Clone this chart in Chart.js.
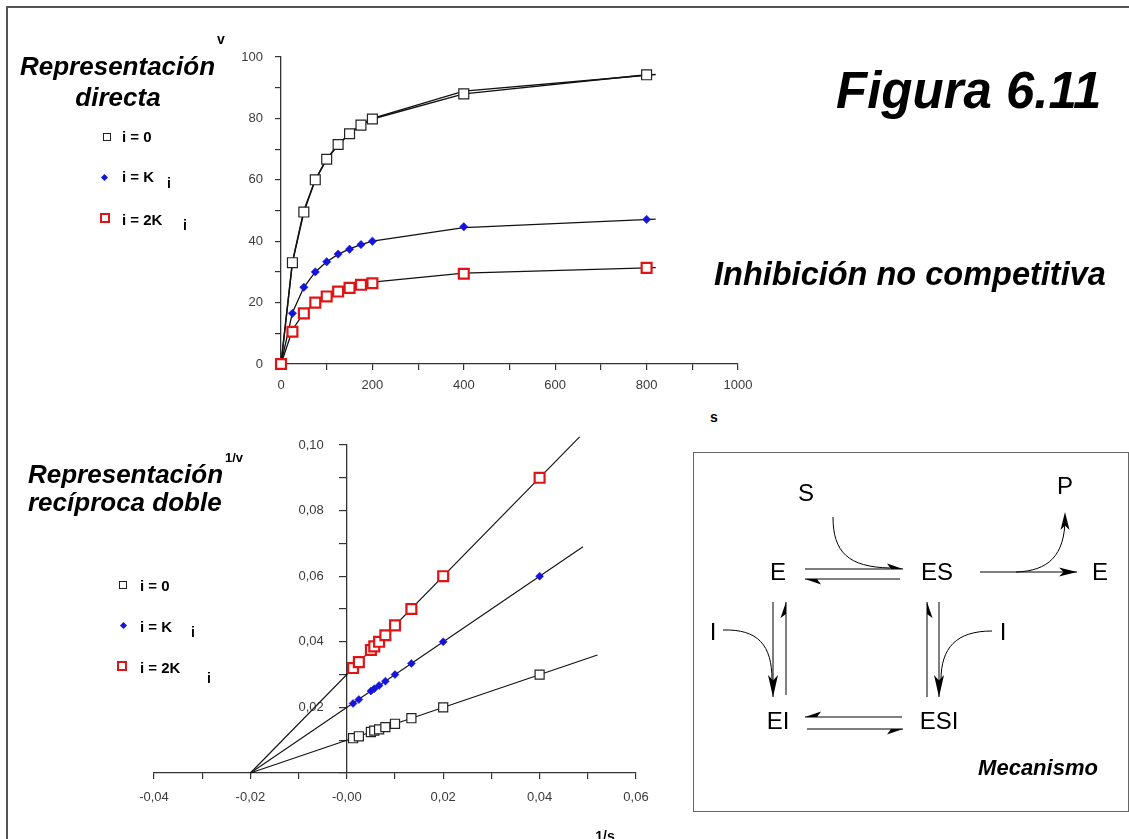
<!DOCTYPE html>
<html>
<head>
<meta charset="utf-8">
<title>Figura 6.11 - Inhibición no competitiva</title>
<script src="https://cdn.jsdelivr.net/npm/chart.js@4.4.1/dist/chart.umd.min.js"></script>
<style>
  html, body { margin: 0; padding: 0; background: #fff; }
  body { width: 1129px; height: 839px; position: relative; overflow: hidden;
         font-family: "Liberation Sans", Arial, Helvetica, sans-serif; color: #000; }
  .t { position: absolute; white-space: nowrap; line-height: 1; }
  .bi { font-weight: bold; font-style: italic; }
  .b { font-weight: bold; }
  .c { transform: translate(-50%, -50%); }
  .m { position: absolute; box-sizing: border-box; }
  #frame { position: absolute; left: 6px; top: 6px; width: 1300px; height: 1000px;
           border-top: 2px solid #555; border-left: 2px solid #555; }
  #mechBox { position: absolute; left: 693px; top: 452px; width: 436px; height: 360px;
             box-sizing: border-box; border: 1.5px solid #666; }
  canvas { position: absolute; }
</style>
</head>
<body>
<div id="frame"></div>

<!-- direct plot -->
<canvas id="direct" width="560" height="360" style="left:200px; top:40px; width:560px; height:360px;"></canvas>
<!-- double reciprocal plot -->
<canvas id="recip" width="580" height="420" style="left:100px; top:420px; width:580px; height:420px;"></canvas>

<div id="mechBox"></div>
<canvas id="mech" width="436" height="387" style="left:693px; top:452px; width:436px; height:387px;"></canvas>

<!-- headings -->
<div class="t bi" style="left:20px; top:53px; font-size:26px;">Representación</div>
<div class="t bi" style="left:118px; top:84px; font-size:26px; transform:translateX(-50%);">directa</div>
<div class="t bi" style="left:836px; top:65px; font-size:51px;">Figura 6.11</div>
<div class="t bi" style="left:714px; top:258px; font-size:32.5px;">Inhibición no competitiva</div>
<div class="t bi" style="left:28px; top:461px; font-size:26px;">Representación</div>
<div class="t bi" style="left:28px; top:489px; font-size:26px;">recíproca doble</div>

<!-- axis titles -->
<div class="t b c" style="left:221px; top:39px; font-size:14px;">v</div>
<div class="t b c" style="left:714px; top:417px; font-size:14px;">s</div>
<div class="t b c" style="left:234px; top:457px; font-size:13px;">1/v</div>
<div class="t b c" style="left:605px; top:836px; font-size:14px;">1/s</div>

<!-- legend, direct plot -->
<div class="m" style="left:103px; top:133px; width:8px; height:8px; border:1.3px solid #222; background:#fff;"></div>
<div class="m" style="left:102px; top:175px; width:5px; height:5px; background:#1414dc; transform:rotate(45deg);"></div>
<div class="m" style="left:100px; top:213px; width:10px; height:10px; border:2.5px solid #e01414; background:#fff;"></div>
<div class="t b" style="left:122px; top:129px; font-size:15px;">i = 0</div>
<div class="t b" style="left:122px; top:169px; font-size:15px;">i = K</div>
<div class="t b" style="left:167px; top:176px; font-size:14px;">i</div>
<div class="t b" style="left:122px; top:212px; font-size:15px;">i = 2K</div>
<div class="t b" style="left:183px; top:218px; font-size:14px;">i</div>

<!-- legend, double reciprocal plot -->
<div class="m" style="left:119px; top:581px; width:8px; height:8px; border:1.3px solid #222; background:#fff;"></div>
<div class="m" style="left:121px; top:623px; width:5px; height:5px; background:#1414dc; transform:rotate(45deg);"></div>
<div class="m" style="left:117px; top:661px; width:10px; height:10px; border:2.5px solid #e01414; background:#fff;"></div>
<div class="t b" style="left:140px; top:578px; font-size:15px;">i = 0</div>
<div class="t b" style="left:140px; top:619px; font-size:15px;">i = K</div>
<div class="t b" style="left:191px; top:625px; font-size:14px;">i</div>
<div class="t b" style="left:140px; top:660px; font-size:15px;">i = 2K</div>
<div class="t b" style="left:207px; top:671px; font-size:14px;">i</div>

<!-- mechanism species -->
<div class="t c" style="left:806px; top:493px; font-size:24px;">S</div>
<div class="t c" style="left:1065px; top:486px; font-size:24px;">P</div>
<div class="t c" style="left:778px; top:572px; font-size:24px;">E</div>
<div class="t c" style="left:937px; top:572px; font-size:24px;">ES</div>
<div class="t c" style="left:1100px; top:572px; font-size:24px;">E</div>
<div class="t c" style="left:713px; top:632px; font-size:24px;">I</div>
<div class="t c" style="left:1003px; top:632px; font-size:24px;">I</div>
<div class="t c" style="left:778px; top:721px; font-size:24px;">EI</div>
<div class="t c" style="left:939px; top:721px; font-size:24px;">ESI</div>
<div class="t bi c" style="left:1038px; top:768px; font-size:22px;">Mecanismo</div>

<script>
// ---- Direct plot: v against s ----
const sValues   = [0, 25, 50, 75, 100, 125, 150, 175, 200, 400, 800];
const vNoInhib  = [0, 33, 49.5, 60, 66.7, 71.5, 75, 77.8, 79.8, 88, 94.2];
const vKi       = [0, 16.5, 25, 30, 33.3, 35.8, 37.4, 38.9, 40, 44.7, 47.1];
const v2Ki      = [0, 10.5, 16.5, 20, 22, 23.6, 24.8, 25.8, 26.3, 29.4, 31.3];

// fitted hyperbolas, drawn a little past the last point
const sFit      = [0, 25, 50, 75, 100, 125, 150, 175, 200, 400, 820];
const fitNoInhib = [0, 33.3, 50, 60, 66.7, 71.4, 75, 77.8, 80, 88.9, 94.3];
const fitKi      = [0, 16.7, 25, 30, 33.3, 35.7, 37.5, 38.9, 40, 44.4, 47.2];
const fit2Ki     = [0, 11.1, 16.7, 20, 22.2, 23.8, 25, 25.9, 26.7, 29.6, 31.4];

const directXLabels = [0, 200, 400, 600, 800, 1000];
const directYLabels = [0, 20, 40, 60, 80, 100];

// ---- Double reciprocal plot: 1/v against 1/s ----
const invS        = [0.0013, 0.0025, 0.005, 0.0057, 0.0067, 0.008, 0.01, 0.0134, 0.02, 0.04];
const invVNoInhib = [0.0106, 0.0112, 0.0125, 0.0129, 0.0133, 0.014, 0.015, 0.0167, 0.02, 0.03];
const invVKi      = [0.0212, 0.0224, 0.025, 0.0257, 0.0267, 0.028, 0.030, 0.0334, 0.04, 0.06];
const invV2Ki     = [0.032, 0.0338, 0.0375, 0.0386, 0.04, 0.042, 0.045, 0.05, 0.06, 0.09];

// straight lines meeting on the x axis at -1/Km
const lineNoInhibX = [-0.02, 0.052];
const lineNoInhibY = [0, 0.036];
const lineKiX      = [-0.02, 0.049];
const lineKiY      = [0, 0.069];
const line2KiX     = [-0.02, 0.0483];
const line2KiY     = [0, 0.1025];

const recipXTicks  = [-0.04, -0.02, 0, 0.02, 0.04, 0.06];
const recipXLabels = ['-0,04', '-0,02', '-0,00', '0,02', '0,04', '0,06'];
const recipYTicks  = [0.02, 0.04, 0.06, 0.08, 0.10];
const recipYLabels = ['0,02', '0,04', '0,06', '0,08', '0,10'];

const BLUE = '#1414dc';
const RED = '#e01414';
const INK = '#222';
const AXIS = '#333';

const pts = (xs, ys) => xs.map((x, i) => ({ x: x, y: ys[i] }));
const lookup = (ticks, labels) => v => {
  const i = ticks.findIndex(t => Math.abs(t - v) < 1e-9);
  return i >= 0 ? labels[i] : '';
};

Chart.defaults.font.family = '"Liberation Sans", Arial, sans-serif';
Chart.defaults.font.size = 13;
Chart.defaults.color = '#333';

// The y axis of the reciprocal plot crosses x = 0; its labels are set
// to the left of the tick marks by this plugin.
const yLabelGap = {
  id: 'yLabelGap',
  beforeDraw(chart, args, opts) {
    const items = chart.scales.y.getLabelItems();
    if (!items._gapApplied) {
      items.forEach(it => { it.options.translation[0] -= opts.gap; });
      items._gapApplied = true;
    }
  }
};

function axisBase() {
  return {
    type: 'linear',
    border: { display: true, color: AXIS, width: 1.3 },
    grid: { display: true, drawOnChartArea: false, drawTicks: true,
            tickLength: 6, color: AXIS, lineWidth: 1.2 },
    ticks: { autoSkip: false, maxRotation: 0, color: '#3a3a3a', font: { size: 13 } }
  };
}

const fixWidth = w => scale => { scale.width = w; scale.paddingTop = 0; scale.paddingBottom = 0; scale.paddingLeft = 0; scale.paddingRight = 0; };
const fixHeight = h => scale => { scale.height = h; scale.paddingLeft = 0; scale.paddingRight = 0; scale.paddingTop = 0; scale.paddingBottom = 0; };

const lineSet = (data, width) => ({
  data: data, showLine: true, borderColor: '#111', borderWidth: width,
  pointRadius: 0, fill: false, tension: 0, clip: false, order: 2
});

// direct plot
const dx = axisBase();
Object.assign(dx, { min: 0, max: 1000, afterFit: fixHeight(36) });
dx.ticks = Object.assign({}, dx.ticks, { stepSize: 100, padding: 8,
  callback: v => directXLabels.includes(v) ? String(v) : '' });
const dy = axisBase();
Object.assign(dy, { min: 0, max: 100, afterFit: fixWidth(81) });
dy.ticks = Object.assign({}, dy.ticks, { stepSize: 10, padding: 12,
  callback: v => directYLabels.includes(v) ? String(v) : '' });

new Chart(document.getElementById('direct'), {
  type: 'scatter',
  data: {
    datasets: [
      lineSet(pts(sFit, fitNoInhib), 1.4),
      lineSet(pts(sFit, fitKi), 1.3),
      lineSet(pts(sFit, fit2Ki), 1.3),
      { label: 'i = 0', data: pts(sValues, vNoInhib), showLine: true, borderColor: '#111', borderWidth: 1.4,
        pointStyle: 'rect', pointRadius: 7, pointBorderWidth: 1.2, pointBorderColor: INK,
        pointBackgroundColor: '#fff', clip: false, order: 1 },
      { label: 'i = Ki', data: pts(sValues, vKi), showLine: false,
        pointStyle: 'rectRot', pointRadius: 4.2, pointBorderWidth: 0.5, pointBorderColor: BLUE,
        pointBackgroundColor: BLUE, clip: false, order: 1 },
      { label: 'i = 2Ki', data: pts(sValues, v2Ki), showLine: false,
        pointStyle: 'rect', pointRadius: 7, pointBorderWidth: 2.2, pointBorderColor: RED,
        pointBackgroundColor: '#fff', clip: false, order: 0 }
    ]
  },
  options: {
    responsive: false, animation: false, events: [],
    layout: { padding: { left: 0, right: 22, top: 17, bottom: 0 } },
    plugins: { legend: { display: false }, tooltip: { enabled: false } },
    scales: { x: dx, y: dy }
  }
});

// double reciprocal plot
const rx = axisBase();
Object.assign(rx, { min: -0.04, max: 0.06, afterFit: fixHeight(67) });
rx.ticks = Object.assign({}, rx.ticks, { stepSize: 0.01, padding: 11,
  callback: lookup(recipXTicks, recipXLabels) });
const ry = axisBase();
Object.assign(ry, { min: 0, max: 0.10, position: { x: 0 }, afterFit: fixWidth(0) });
ry.grid = Object.assign({}, ry.grid, { tickLength: 7 });
ry.ticks = Object.assign({}, ry.ticks, { stepSize: 0.01,
  callback: lookup(recipYTicks, recipYLabels) });

new Chart(document.getElementById('recip'), {
  type: 'scatter',
  data: {
    datasets: [
      lineSet(pts(lineNoInhibX, lineNoInhibY), 1.1),
      lineSet(pts(lineKiX, lineKiY), 1.1),
      lineSet(pts(line2KiX, line2KiY), 1.1),
      { label: 'i = 0', data: pts(invS, invVNoInhib), showLine: false,
        pointStyle: 'rect', pointRadius: 6.4, pointBorderWidth: 1.2, pointBorderColor: INK,
        pointBackgroundColor: '#fff', clip: false, order: 1 },
      { label: 'i = Ki', data: pts(invS, invVKi), showLine: false,
        pointStyle: 'rectRot', pointRadius: 4, pointBorderWidth: 0.5, pointBorderColor: BLUE,
        pointBackgroundColor: BLUE, clip: false, order: 1 },
      { label: 'i = 2Ki', data: pts(invS, invV2Ki), showLine: false,
        pointStyle: 'rect', pointRadius: 7, pointBorderWidth: 2.2, pointBorderColor: RED,
        pointBackgroundColor: '#fff', clip: false, order: 1 }
    ]
  },
  options: {
    responsive: false, animation: false, events: [],
    layout: { padding: { left: 54, right: 44, top: 25, bottom: 0 } },
    plugins: { legend: { display: false }, tooltip: { enabled: false }, yLabelGap: { gap: 23 } },
    scales: { x: rx, y: ry }
  },
  plugins: [yLabelGap]
});

// ---- Reaction scheme arrows ----
(function drawScheme() {
  const cv = document.getElementById('mech');
  const ctx = cv.getContext('2d');
  ctx.translate(-693, -452);
  ctx.strokeStyle = '#000';
  ctx.fillStyle = '#000';
  ctx.lineWidth = 1;

  function seg(x1, y1, x2, y2) {
    ctx.beginPath(); ctx.moveTo(x1, y1); ctx.lineTo(x2, y2); ctx.stroke();
  }
  // stealth arrowhead with tip at (x, y) pointing along angle a
  function head(x, y, a, len, half) {
    const c = Math.cos(a), s = Math.sin(a);
    const bx = x - c * len, by = y - s * len;
    const nx = x - c * len * 0.75, ny = y - s * len * 0.75;
    ctx.beginPath();
    ctx.moveTo(x, y);
    ctx.lineTo(bx - s * half, by + c * half);
    ctx.lineTo(nx, ny);
    ctx.lineTo(bx + s * half, by - c * half);
    ctx.closePath();
    ctx.fill();
  }
  // one-sided barb; side = +1 or -1 picks the side of the shaft
  function halfHead(x, y, a, side) {
    const c = Math.cos(a), s = Math.sin(a);
    const len = 16, w = 5.5 * side;
    ctx.beginPath();
    ctx.moveTo(x, y);
    ctx.lineTo(x - c * len - s * w, y - s * len + c * w);
    ctx.lineTo(x - c * (len - 4), y - s * (len - 4));
    ctx.closePath();
    ctx.fill();
  }
  function curve(p) {
    ctx.beginPath();
    ctx.moveTo(p[0], p[1]);
    ctx.bezierCurveTo(p[2], p[3], p[4], p[5], p[6], p[7]);
    ctx.stroke();
  }

  // E <-> ES
  seg(805, 569, 903, 569); halfHead(903, 569, 0, -1);
  seg(900, 579, 805, 579); halfHead(805, 579, Math.PI, -1);
  curve([833, 517, 833, 552, 848, 567, 890, 568]);

  // ES -> E + P
  seg(980, 572, 1077, 572); head(1077, 572, 0, 18, 4.5);
  curve([1016, 572, 1048, 571, 1065, 556, 1065, 518]); head(1065, 512, -Math.PI / 2, 18, 4.5);

  // E <-> EI
  seg(773, 602, 773, 697); head(773, 697, Math.PI / 2, 22, 5);
  seg(786, 695, 786, 602); halfHead(786, 602, -Math.PI / 2, -1);
  curve([723, 630, 758, 629, 772, 645, 772, 680]);

  // ES <-> ESI
  seg(927, 697, 927, 602); halfHead(927, 602, -Math.PI / 2, 1);
  seg(939, 602, 939, 697); head(939, 697, Math.PI / 2, 22, 5);
  curve([992, 631, 956, 631, 941, 648, 941, 680]);

  // EI <-> ESI
  seg(902, 717, 805, 717); halfHead(805, 717, Math.PI, 1);
  seg(807, 729, 903, 729); halfHead(903, 729, 0, 1);
})();
</script>
</body>
</html>
